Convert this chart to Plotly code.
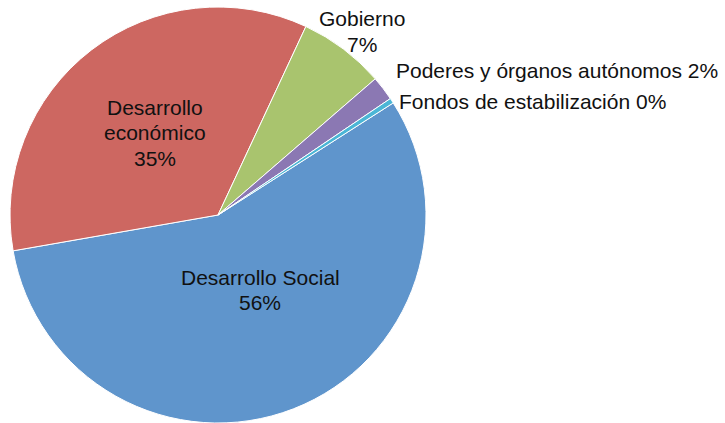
import plotly.graph_objects as go

# Budget distribution by functional classification
labels = ["Desarrollo Social", "Desarrollo económico", "Gobierno",
          "Poderes y órganos autónomos", "Fondos de estabilización"]
values = [56.3, 34.7, 6.7, 1.9, 0.4]
colors = ["#5F95CC", "#CD6761", "#A9C46E", "#8B78B3", "#4BB6D6"]

W, H = 725, 423
cx, cy, r = 218, 215, 208  # pie centre and radius in pixels

total = sum(values)
pct = [f"{round(100 * v / total):d}%" for v in values]

fig = go.Figure(go.Pie(
    labels=labels,
    values=values,
    sort=False,
    direction="clockwise",
    rotation=57.4,
    marker=dict(colors=colors, line=dict(color="white", width=1)),
    textinfo="none",
    hoverinfo="label+percent",
    showlegend=False,
    domain=dict(x=[(cx - r) / W, (cx + r) / W],
                y=[(H - cy - r) / H, (H - cy + r) / H]),
))

# Label lines for each slice, with pixel anchor of the first line and alignment
label_lines = [
    [labels[0], pct[0]],
    ["Desarrollo", "económico", pct[1]],
    [labels[2], pct[2]],
    [f"{labels[3]} {pct[3]}"],
    [f"{labels[4]} {pct[4]}"],
]
label_pos = [
    (260, 277, "center"),
    (155, 107, "center"),
    (362, 19, "center"),
    (394, 70, "left"),
    (397, 101, "left"),
]
line_step = 25.5
font = dict(family="Liberation Sans, Arial, sans-serif", size=21, color="#111111")

annotations = []
for lines, (x, y, al) in zip(label_lines, label_pos):
    for k, txt in enumerate(lines):
        annotations.append(dict(
            text=txt, x=x / W, y=1 - (y + k * line_step) / H,
            xref="paper", yref="paper",
            xanchor=al, yanchor="middle", showarrow=False, font=font,
        ))

fig.update_layout(
    width=W, height=H,
    margin=dict(l=0, r=0, t=0, b=0),
    paper_bgcolor="white",
    plot_bgcolor="white",
    annotations=annotations,
)

fig.write_html("out.html")
